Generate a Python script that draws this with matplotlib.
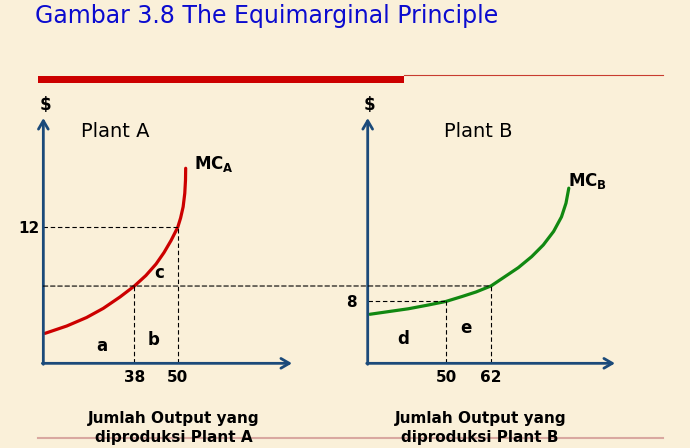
import matplotlib
matplotlib.use('Agg')
import matplotlib.pyplot as plt
from matplotlib.patches import Rectangle, ConnectionPatch
from matplotlib.lines import Line2D

# values (schematic units)
mc_equal = 10
a_qty_ticks = [38, 50]
a_mc_ticks = [12]
b_qty_ticks = [50, 62]
b_mc_ticks = [8]

curve_a_q = [13.3, 19.3, 24.8, 29.4, 34.05, 38.0, 41.2, 44.0, 46.2, 48.15, 50.0,
             50.8, 51.5, 51.95, 52.15, 52.2]
curve_a_mc = [8.39, 8.64, 8.93, 9.24, 9.63, 10.0, 10.36, 10.75, 11.14, 11.55, 12.0,
              12.32, 12.7, 13.16, 13.61, 14.01]
curve_b_q = [29.7, 34.6, 39.95, 45.3, 50.0, 54.3, 58.0, 62.0, 65.7, 69.3, 72.85,
             75.95, 78.7, 80.8, 82.0, 82.75]
curve_b_mc = [6.34, 6.68, 7.05, 7.54, 8.0, 8.64, 9.22, 10.0, 11.2, 12.37, 13.79,
              15.3, 17.05, 18.93, 20.7, 22.64]

bg = '#FAF0D9'
axis_col = '#1B4A7A'
dash = (0, (4, 2.5))

fig = plt.figure(figsize=(6.9, 4.48), dpi=100, facecolor=bg)

axA = fig.add_axes([0.0628, 0.189, 0.3604, 0.5475])
axB = fig.add_axes([0.5329, 0.189, 0.3584, 0.5475])
axA.set_xlim(12.84, 81.6)
axA.set_ylim(7.37, 15.72)
axB.set_xlim(29.12, 95.07)
axB.set_ylim(0, 31.7)

for ax in (axA, axB):
    ax.set_facecolor('none')
    for s in ax.spines.values():
        s.set_visible(False)
    ax.tick_params(length=0, labelsize=11)
    arrow = dict(arrowstyle='->,head_length=0.6,head_width=0.35', lw=2,
                 color=axis_col, shrinkA=0, shrinkB=0)
    ax.annotate('', xy=(0, 1), xytext=(0, -0.004), xycoords='axes fraction', arrowprops=arrow)
    ax.annotate('', xy=(1, 0), xytext=(-0.004, 0), xycoords='axes fraction', arrowprops=arrow)
    ax.text(0.008, 1.053, '$', transform=ax.transAxes, ha='center', va='center',
            fontsize=12, fontweight='bold')

# Plant A
axA.plot(curve_a_q, curve_a_mc, color='#CC0000', lw=2.3,
         solid_capstyle='round', solid_joinstyle='round')
xa0, ya0 = axA.get_xlim()[0], axA.get_ylim()[0]
axA.plot([xa0, a_qty_ticks[1]], [a_mc_ticks[0]] * 2, color='black', lw=0.8, ls=dash)
axA.plot([a_qty_ticks[1]] * 2, [ya0, a_mc_ticks[0]], color='black', lw=0.8, ls=dash)
axA.plot([a_qty_ticks[0]] * 2, [ya0, mc_equal], color='black', lw=0.8, ls=dash)
axA.set_xticks(a_qty_ticks)
axA.set_yticks(a_mc_ticks)
axA.tick_params(axis='x', pad=5)
axA.tick_params(axis='y', pad=3)

# Plant B
axB.plot(curve_b_q, curve_b_mc, color='#118811', lw=2.3,
         solid_capstyle='round', solid_joinstyle='round')
xb0, yb0 = axB.get_xlim()[0], axB.get_ylim()[0]
axB.plot([xb0, b_qty_ticks[0]], [b_mc_ticks[0]] * 2, color='black', lw=0.8, ls=dash)
axB.plot([b_qty_ticks[0]] * 2, [yb0, b_mc_ticks[0]], color='black', lw=0.8, ls=dash)
axB.plot([b_qty_ticks[1]] * 2, [yb0, mc_equal], color='black', lw=0.8, ls=dash)
axB.set_xticks(b_qty_ticks)
axB.set_yticks(b_mc_ticks)
axB.tick_params(axis='x', pad=5)
axB.tick_params(axis='y', pad=8)

for ax in (axA, axB):
    for lab in ax.get_xticklabels() + ax.get_yticklabels():
        lab.set_fontweight('bold')

# common marginal cost level across both plants
con = ConnectionPatch(xyA=(xa0, mc_equal), coordsA=axA.transData,
                      xyB=(b_qty_ticks[1], mc_equal), coordsB=axB.transData,
                      color='black', lw=0.8, ls=dash)
fig.add_artist(con)

# labels
axA.text(0.288, 0.944, 'Plant A', transform=axA.transAxes, ha='center', va='center', fontsize=14)
axB.text(0.446, 0.947, 'Plant B', transform=axB.transAxes, ha='center', va='center', fontsize=14)
axA.text(0.606, 0.812, r'$\mathbf{MC}_{\mathbf{A}}$', transform=axA.transAxes,
         ha='left', va='center', fontsize=12)
axB.text(0.810, 0.743, r'$\mathbf{MC}_{\mathbf{B}}$', transform=axB.transAxes,
         ha='left', va='center', fontsize=12)
for ax, s, x, y in [(axA, 'a', 0.236, 0.0705), (axA, 'b', 0.445, 0.095), (axA, 'c', 0.465, 0.369),
                    (axB, 'd', 0.144, 0.098), (axB, 'e', 0.396, 0.143)]:
    ax.text(x, y, s, transform=ax.transAxes, ha='center', va='center',
            fontsize=12, fontweight='bold')

# slide decoration
fig.text(0.0507, 0.9487, 'Gambar 3.8 The Equimarginal Principle', color='#0B0BCF',
         fontsize=17, ha='left', va='baseline')
fig.patches.append(Rectangle((0.0551, 0.814), 0.530, 0.0163, transform=fig.transFigure,
                             facecolor='#CC0000', edgecolor='none'))
fig.add_artist(Line2D([0.585, 0.961], [0.8315, 0.8315], color='#C83C30', lw=0.8))
fig.add_artist(Line2D([0.0551, 0.961], [0.0234, 0.0234], color='#D9A8A0', lw=1.5, zorder=0))

fig.text(0.252, 0.0446, 'Jumlah Output yang\ndiproduksi Plant A', ha='center', va='center',
         fontsize=11, fontweight='bold', linespacing=1.3)
fig.text(0.696, 0.0446, 'Jumlah Output yang\ndiproduksi Plant B', ha='center', va='center',
         fontsize=11, fontweight='bold', linespacing=1.3)

fig.savefig('out.png', dpi=100, facecolor=bg)
